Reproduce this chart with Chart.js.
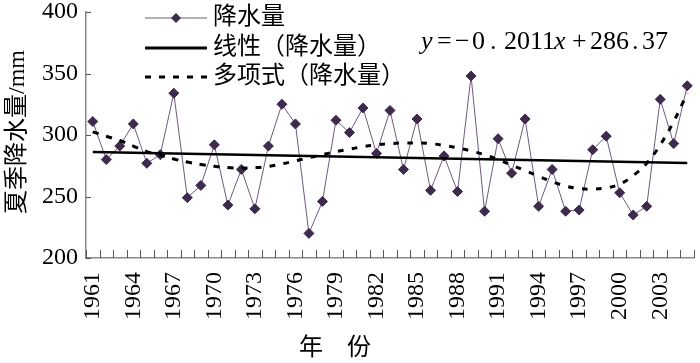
<!DOCTYPE html>
<html>
<head>
<meta charset="utf-8">
<script src="https://cdn.jsdelivr.net/npm/chart.js@4.4.1/dist/chart.umd.min.js"></script>
<style>
  html, body { margin: 0; padding: 0; background: #fff; }
  #wrap { width: 700px; height: 363px; position: relative; }
</style>
</head>
<body>
<div id="wrap"><canvas id="chart"></canvas></div>
<script>
// --- Data ---
const years = [];
for (let y = 1961; y <= 2005; y++) years.push(String(y));

const rainfall = [
  311, 280, 291, 309, 277, 284, 334, 249, 259, 292,
  243, 272, 240, 291, 325, 309, 220, 246, 312, 302,
  322, 285, 320, 272, 313, 255, 283, 254, 348, 238,
  297, 269, 313, 242, 272, 238, 239, 288, 299, 253,
  235, 242, 329, 293, 340
];

// polynomial trend
const polyTrend = [
  302.5, 299, 295.5, 291, 286.5, 283.5, 280.5, 278, 276, 274.5,
  273.5, 273, 273.5, 274.5, 276.5, 279, 281.5, 284, 286.5, 288.5,
  290.5, 292, 293, 293.5, 293.5, 293, 291.5, 289.5, 287, 284,
  280, 275.5, 271, 266.5, 262, 258.5, 256.5, 256, 257, 260,
  267, 277, 292, 311, 334
];

// linear trend end points (first and last year)
const linearEnds = [286.2, 277.3];

const yTicks = [200, 250, 300, 350, 400];
const legendNames = ['降水量', '线性（降水量）', '多项式（降水量）'];

const linearTrend = years.map((_, i) =>
  i === 0 ? linearEnds[0] : (i === years.length - 1 ? linearEnds[1] : null));

const SERIF = '"Liberation Serif", "Noto Sans CJK SC", serif';
const LINE_COL = '#6d5a7d';
const MARK_COL = '#3d2a4d';
const AXIS_COL = '#8a8a8a';

// --- Extra drawing: inward ticks, titles, legend, equation ---
const decor = {
  id: 'decor',
  afterDraw(chart) {
    const ctx = chart.ctx;
    const xs = chart.scales.x, ys = chart.scales.y;
    const area = chart.chartArea;
    ctx.save();

    // inward tick marks
    ctx.strokeStyle = '#555';
    ctx.lineWidth = 1;
    const step = xs.getPixelForValue(1) - xs.getPixelForValue(0);
    ctx.beginPath();
    for (let i = 0; i <= years.length; i++) {
      const px = Math.round(xs.getPixelForValue(i) - step / 2) + 0.5;
      ctx.moveTo(px, area.bottom);
      ctx.lineTo(px, area.bottom - 8);
    }
    yTicks.forEach(v => {
      const py = Math.round(ys.getPixelForValue(v)) + 0.5;
      ctx.moveTo(area.left, py);
      ctx.lineTo(area.left + 5, py);
    });
    ctx.stroke();

    ctx.fillStyle = '#000';
    // y title
    ctx.save();
    ctx.translate(18, 132);
    ctx.rotate(-Math.PI / 2);
    ctx.font = '24px ' + SERIF;
    ctx.textAlign = 'center';
    ctx.textBaseline = 'middle';
    ctx.fillText('夏季降水量/mm', 0, 0);
    ctx.restore();

    // x title
    ctx.font = '24px ' + SERIF;
    ctx.textAlign = 'center';
    ctx.textBaseline = 'middle';
    ctx.fillText('年　份', 335, 349);

    // legend
    const lx0 = 145, lx1 = 207, rows = [18, 48, 77];
    ctx.textAlign = 'left';
    legendNames.forEach((name, i) => {
      const y = rows[i];
      ctx.save();
      if (i === 0) {
        ctx.strokeStyle = LINE_COL; ctx.lineWidth = 1;
      } else if (i === 1) {
        ctx.strokeStyle = '#000'; ctx.lineWidth = 3;
      } else {
        ctx.strokeStyle = '#000'; ctx.lineWidth = 3; ctx.setLineDash([6, 8]);
      }
      ctx.beginPath();
      ctx.moveTo(lx0, y); ctx.lineTo(lx1, y);
      ctx.stroke();
      ctx.restore();
      if (i === 0) {
        const cx = (lx0 + lx1) / 2;
        ctx.fillStyle = MARK_COL;
        ctx.beginPath();
        ctx.moveTo(cx, y - 5); ctx.lineTo(cx + 5, y);
        ctx.lineTo(cx, y + 5); ctx.lineTo(cx - 5, y);
        ctx.closePath(); ctx.fill();
      }
      ctx.fillStyle = '#000';
      ctx.font = '24px ' + SERIF;
      ctx.textBaseline = 'middle';
      ctx.fillText(name, 213, y);
    });

    // trend equation, wide spacing as in the source figure: [text, italic, left x]
    const parts = [
      ['y', true, 421], ['=', false, 437], ['−', false, 455], ['0', false, 472],
      ['.', false, 490], ['2011', false, 504], ['x', true, 554], ['+', false, 572],
      ['286', false, 590], ['.', false, 632], ['37', false, 642]
    ];
    ctx.textBaseline = 'alphabetic';
    parts.forEach(([t, it, px]) => {
      ctx.font = (it ? 'italic ' : '') + '26px ' + SERIF;
      ctx.fillText(t, px, 49);
    });

    ctx.restore();
  }
};

new Chart(document.getElementById('chart'), {
  type: 'line',
  data: {
    labels: years,
    datasets: [
      {
        label: legendNames[0],
        data: rainfall,
        borderColor: LINE_COL,
        borderWidth: 1,
        pointStyle: 'rectRot',
        pointRadius: 5,
        pointBackgroundColor: MARK_COL,
        pointBorderColor: MARK_COL,
        pointBorderWidth: 1,
        tension: 0,
        order: 3
      },
      {
        label: legendNames[1],
        data: linearTrend,
        spanGaps: true,
        borderColor: '#000',
        borderWidth: 2.5,
        pointRadius: 0,
        order: 1
      },
      {
        label: legendNames[2],
        data: polyTrend,
        borderColor: '#000',
        borderWidth: 3,
        borderDash: [6, 8],
        borderCapStyle: 'butt',
        pointRadius: 0,
        tension: 0.4,
        order: 2
      }
    ]
  },
  options: {
    responsive: true,
    maintainAspectRatio: false,
    animation: false,
    devicePixelRatio: 1,
    layout: { padding: { top: 12, right: 2, left: 0, bottom: 0 } },
    plugins: { legend: { display: false }, tooltip: { enabled: false } },
    scales: {
      x: {
        type: 'category',
        offset: true,
        grid: { display: false, drawTicks: false },
        border: { display: true, color: AXIS_COL, width: 1.5 },
        ticks: {
          autoSkip: false,
          maxRotation: 90,
          minRotation: 90,
          padding: 14,
          color: '#000',
          font: { family: SERIF, size: 24 },
          callback: function (val, idx) { return idx % 3 === 0 ? years[idx] : ''; }
        },
        afterFit: s => { s.height = 105; s.paddingLeft = 0; s.paddingRight = 0; }
      },
      y: {
        min: 200,
        max: 400,
        grid: { display: false, drawTicks: false },
        border: { display: true, color: AXIS_COL, width: 1.5 },
        afterBuildTicks: s => { s.ticks = yTicks.map(v => ({ value: v })); },
        ticks: {
          padding: 8,
          color: '#000',
          font: { family: SERIF, size: 24 }
        },
        afterFit: s => { s.width = 86; s.paddingTop = 0; s.paddingBottom = 0; }
      }
    }
  },
  plugins: [decor]
});
</script>
</body>
</html>
